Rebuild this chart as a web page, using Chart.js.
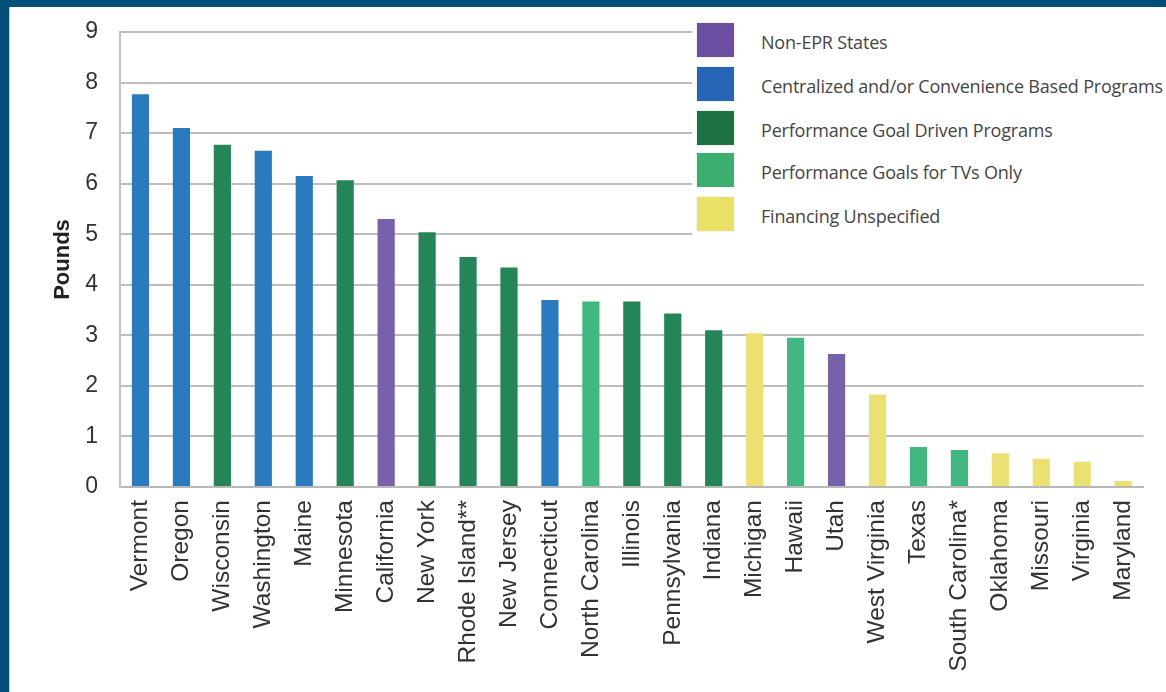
<!DOCTYPE html>
<html>
<head>
<meta charset="utf-8">
<script src="https://cdn.jsdelivr.net/npm/chart.js@4.4.1/dist/chart.umd.min.js"></script>
<style>
  html, body { margin: 0; padding: 0; }
  body { width: 1166px; height: 692px; background: #02507a; position: relative; overflow: hidden; }
  #panel { position: absolute; left: 9px; top: 7px; width: 1157px; height: 685px; background: #fff; border-left: 1px solid #c8c8c8; }
  #wrap { position: absolute; left: 10px; top: 7px; width: 1156px; height: 685px; }
  #legend { position: absolute; left: 692px; top: 14px; width: 474px; height: 232px; background: #fff; }
  .item { position: absolute; left: 5px; height: 34px; width: 470px; }
  .sw { position: absolute; left: 0; top: 0; width: 37px; height: 34px; box-shadow: 0 0 1px rgba(0,0,0,0.25); }
  .lb { position: absolute; left: 64px; top: 2px; line-height: 34px; font-family: "Open Sans", sans-serif; font-size: 18px; color: #454545; white-space: nowrap; letter-spacing: -0.2px; }
</style>
</head>
<body>
<div id="panel"></div>
<div id="wrap"><canvas id="c" width="1156" height="685"></canvas></div>
<div id="legend"></div>
<script>
// ---- data ----
const categories = ["Vermont","Oregon","Wisconsin","Washington","Maine","Minnesota","California","New York","Rhode Island**","New Jersey","Connecticut","North Carolina","Illinois","Pennsylvania","Indiana","Michigan","Hawaii","Utah","West Virginia","Texas","South Carolina*","Oklahoma","Missouri","Virginia","Maryland"];
const pounds = [7.77, 7.1, 6.77, 6.65, 6.15, 6.07, 5.3, 5.04, 4.55, 4.34, 3.7, 3.67, 3.67, 3.43, 3.1, 3.04, 2.95, 2.63, 1.83, 0.79, 0.73, 0.67, 0.56, 0.5, 0.12];
const groupNames = ["Non-EPR States","Centralized and/or Convenience Based Programs","Performance Goal Driven Programs","Performance Goals for TVs Only","Financing Unspecified"];
const stateGroup = [1,1,2,1,1,2,0,2,2,2,1,3,2,2,2,4,3,0,4,3,3,4,4,4,4];
const yTicks = [0,1,2,3,4,5,6,7,8,9];

// ---- styles ----
const barColors = ["#7761aa","#2a7abf","#248558","#41b880","#ebe172"];
const legendColors = ["#6b4ea1","#2665b6","#1d7242","#3bae70","#e9e066"];

// legend
const lg = document.getElementById('legend');
const rowTops = [9, 53, 97, 139, 183];
groupNames.forEach((n, i) => {
  const d = document.createElement('div');
  d.className = 'item';
  d.style.top = rowTops[i] + 'px';
  const s = document.createElement('div');
  s.className = 'sw';
  s.style.background = legendColors[i];
  const t = document.createElement('div');
  t.className = 'lb';
  t.textContent = n;
  d.appendChild(s); d.appendChild(t);
  lg.appendChild(d);
});

new Chart(document.getElementById('c'), {
  type: 'bar',
  data: {
    labels: categories,
    datasets: [{
      data: pounds,
      backgroundColor: stateGroup.map(g => barColors[g]),
      borderWidth: 0,
      categoryPercentage: 1.0,
      barPercentage: 0.42
    }]
  },
  options: {
    responsive: false,
    animation: false,
    layout: { padding: { top: 0, right: 21, left: 0, bottom: 0 } },
    plugins: { legend: { display: false }, tooltip: { enabled: false } },
    scales: {
      x: {
        grid: { display: false, drawTicks: false },
        border: { display: true, color: '#b8b8b8', width: 2 },
        ticks: {
          autoSkip: false, maxRotation: 90, minRotation: 90, padding: 13,
          color: '#333', font: { family: '"Liberation Sans", Arial, sans-serif', size: 24.5 }
        },
        afterFit: s => { s.height = 205; }
      },
      y: {
        min: 0, max: 9,
        afterBuildTicks: s => { s.ticks = yTicks.map(v => ({ value: v })); },
        grid: { color: '#bdbdbd', lineWidth: 2, drawTicks: false },
        border: { display: true, color: '#c4c4c4', width: 2 },
        ticks: {
          padding: 22, color: '#333',
          font: { family: '"Liberation Sans", Arial, sans-serif', size: 23 }
        },
        title: {
          display: true, text: 'Pounds', color: '#222',
          padding: { top: 40, bottom: 0 },
          font: { family: '"Liberation Sans", Arial, sans-serif', size: 22, weight: 'bold' }
        },
        afterFit: s => { s.width = 110; s.paddingTop = 25; s.paddingBottom = 0; }
      }
    }
  }
});
</script>
</body>
</html>
